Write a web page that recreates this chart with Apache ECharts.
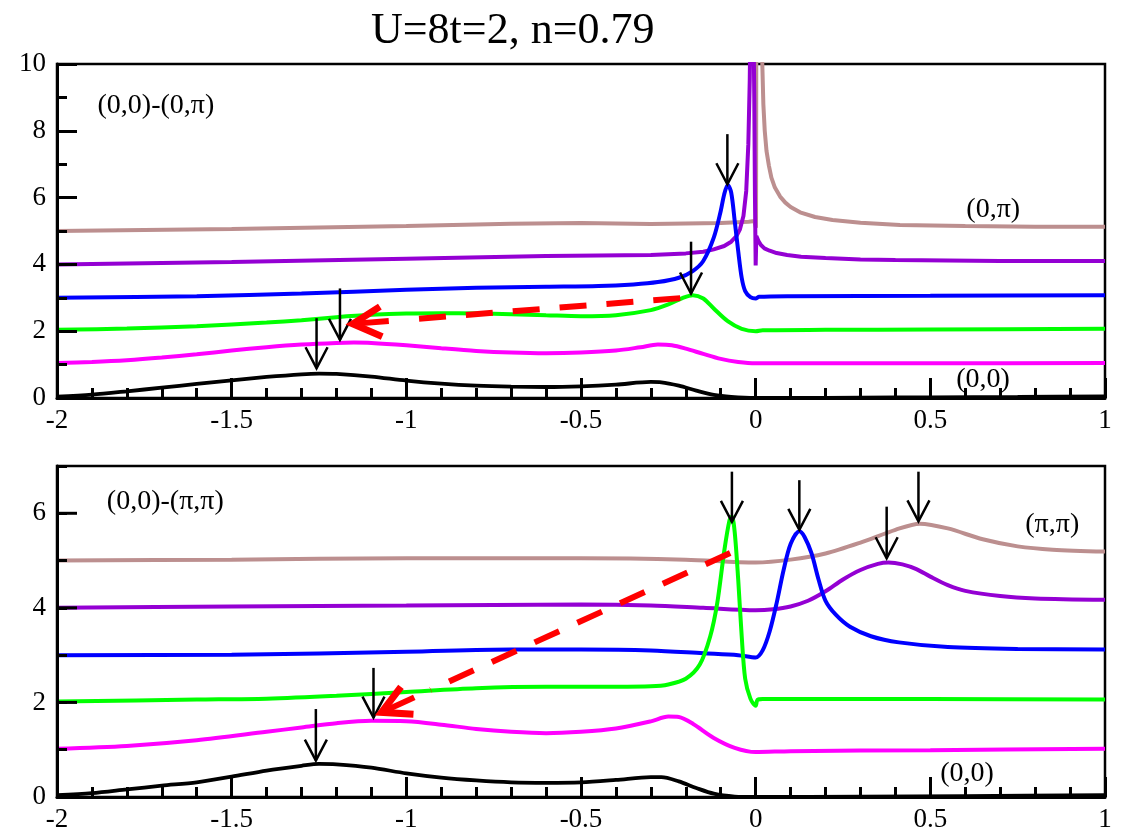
<!DOCTYPE html>
<html><head><meta charset="utf-8">
<script src="https://cdn.jsdelivr.net/npm/echarts@6/dist/echarts.min.js"></script>
<style>html,body{margin:0;padding:0;background:#fff}#c{width:1124px;height:833px}</style>
</head><body><div id="c"></div>
<script>
const FONT = '"Liberation Serif", "Times New Roman", serif';
const titleText = 'U=8t=2, n=0.79';
const X_MIN = -2, X_MAX = 1;
const xTickLabels = ['-2', '-1.5', '-1', '-0.5', '0', '0.5', '1'];
const topYTickLabels = ['0', '2', '4', '6', '8', '10'];
const botYTickLabels = ['0', '2', '4', '6'];
const botYMajorValues = [0, 2, 4, 6];

// ---- top panel: (0,0)-(0,pi) ----
const topBlack = [[-2,0.04],[-1.9,0.1],[-1.8,0.2],[-1.7,0.31],[-1.6,0.42],[-1.5,0.53],[-1.4,0.63],[-1.3,0.71],[-1.25,0.73],[-1.2,0.72],[-1.1,0.64],[-1.0,0.52],[-0.9,0.43],[-0.8,0.37],[-0.7,0.34],[-0.6,0.33],[-0.5,0.35],[-0.4,0.4],[-0.3,0.48],[-0.27,0.47],[-0.22,0.37],[-0.17,0.22],[-0.12,0.09],[-0.07,0.03],[0,0.0],[0.1,0.0],[0.3,0.01],[0.5,0.02],[0.75,0.03],[1,0.05]];
const topMagenta = [[-2,1.05],[-1.9,1.08],[-1.8,1.13],[-1.7,1.21],[-1.6,1.31],[-1.5,1.42],[-1.4,1.52],[-1.3,1.6],[-1.2,1.65],[-1.15,1.66],[-1.1,1.65],[-1.0,1.58],[-0.9,1.49],[-0.8,1.41],[-0.7,1.36],[-0.6,1.34],[-0.5,1.36],[-0.4,1.42],[-0.33,1.52],[-0.28,1.6],[-0.24,1.58],[-0.2,1.48],[-0.15,1.32],[-0.1,1.17],[-0.05,1.08],[0,1.04],[0.2,1.04],[0.5,1.04],[1,1.05]];
const topGreen = [[-2,2.04],[-1.8,2.08],[-1.6,2.15],[-1.4,2.26],[-1.3,2.33],[-1.2,2.42],[-1.1,2.49],[-1.0,2.53],[-0.9,2.54],[-0.8,2.53],[-0.7,2.51],[-0.6,2.48],[-0.5,2.45],[-0.4,2.48],[-0.3,2.63],[-0.25,2.8],[-0.21,2.99],[-0.18,3.08],[-0.15,2.98],[-0.12,2.68],[-0.08,2.3],[-0.04,2.07],[0,2.0],[0.02,2.03],[0.2,2.04],[0.5,2.05],[1,2.07]];
const topBlue = [[-2,3.0],[-1.6,3.05],[-1.3,3.13],[-1.0,3.24],[-0.8,3.3],[-0.6,3.33],[-0.45,3.35],[-0.35,3.4],[-0.28,3.47],[-0.22,3.6],[-0.18,3.8],[-0.15,4.1],[-0.12,4.8],[-0.1,5.6],[-0.09,6.1],[-0.08,6.38],[-0.07,6.15],[-0.06,5.3],[-0.05,4.4],[-0.04,3.6],[-0.03,3.2],[-0.015,3.02],[0,2.98],[0.01,3.03],[0.1,3.05],[0.5,3.06],[1,3.08]];
const topPurple = [[-2,4.0],[-1.5,4.07],[-1.0,4.17],[-0.6,4.25],[-0.3,4.28],[-0.2,4.33],[-0.15,4.38],[-0.12,4.45],[-0.09,4.55],[-0.07,4.68],[-0.055,4.85],[-0.045,5.05],[-0.035,5.45],[-0.027,6.2],[-0.021,7.6],[-0.017,9.5],[-0.014,12],[-0.007,12],[-0.004,9],[-0.002,6],[0,3.97],[0.002,4.85],[0.008,4.7],[0.015,4.58],[0.025,4.48],[0.04,4.41],[0.06,4.34],[0.09,4.28],[0.13,4.23],[0.2,4.19],[0.3,4.15],[0.4,4.13],[0.7,4.1],[1,4.1]];
const topBrown = [[-2,5.0],[-1.5,5.06],[-1.0,5.15],[-0.7,5.22],[-0.5,5.24],[-0.3,5.21],[-0.1,5.24],[-0.02,5.28],[-0.004,5.3],[0.001,5.1],[0.002,12],[0.016,12],[0.019,10],[0.022,8.8],[0.026,8.0],[0.031,7.4],[0.038,6.95],[0.045,6.6],[0.055,6.3],[0.07,6.03],[0.085,5.85],[0.1,5.72],[0.127,5.56],[0.17,5.42],[0.22,5.33],[0.3,5.25],[0.413,5.18],[0.6,5.15],[0.8,5.13],[1,5.13]];

// ---- bottom panel: (0,0)-(pi,pi) ----
const botBlack = [[-2,0.04],[-1.9,0.08],[-1.8,0.16],[-1.7,0.24],[-1.6,0.31],[-1.5,0.43],[-1.4,0.56],[-1.3,0.66],[-1.25,0.7],[-1.2,0.69],[-1.1,0.62],[-1.0,0.5],[-0.9,0.41],[-0.8,0.35],[-0.7,0.31],[-0.6,0.3],[-0.5,0.31],[-0.4,0.36],[-0.3,0.42],[-0.27,0.42],[-0.22,0.33],[-0.17,0.19],[-0.12,0.07],[-0.06,0.01],[0,0.0],[0.3,0.01],[0.6,0.02],[1,0.04]];
const botMagenta = [[-2,1.02],[-1.8,1.08],[-1.6,1.2],[-1.4,1.38],[-1.3,1.47],[-1.2,1.56],[-1.1,1.61],[-1.0,1.6],[-0.9,1.53],[-0.8,1.44],[-0.7,1.38],[-0.6,1.35],[-0.5,1.38],[-0.4,1.45],[-0.3,1.6],[-0.25,1.7],[-0.22,1.69],[-0.18,1.55],[-0.12,1.25],[-0.06,1.04],[0,0.95],[0.1,0.97],[0.5,0.99],[1,1.02]];
const botGreen = [[-2,2.02],[-1.6,2.06],[-1.4,2.08],[-1.2,2.14],[-1.0,2.22],[-0.8,2.3],[-0.6,2.33],[-0.4,2.33],[-0.3,2.34],[-0.25,2.38],[-0.2,2.5],[-0.16,2.8],[-0.13,3.4],[-0.11,4.1],[-0.09,5.2],[-0.075,5.85],[-0.068,5.93],[-0.06,5.6],[-0.05,4.6],[-0.04,3.4],[-0.03,2.5],[-0.015,2.08],[0,1.93],[0.005,2.05],[0.02,2.07],[0.5,2.07],[1,2.06]];
const botBlue = [[-2,3.0],[-1.5,3.01],[-1.0,3.07],[-0.7,3.12],[-0.5,3.12],[-0.3,3.1],[-0.15,3.04],[-0.05,3.0],[0,2.95],[0.02,3.1],[0.04,3.5],[0.06,4.1],[0.08,4.8],[0.1,5.35],[0.125,5.62],[0.14,5.5],[0.16,5.15],[0.18,4.6],[0.2,4.15],[0.23,3.85],[0.27,3.6],[0.33,3.4],[0.41,3.27],[0.55,3.17],[0.75,3.13],[1,3.12]];
const botPurple = [[-2,4.0],[-1.5,4.03],[-1.0,4.05],[-0.5,4.07],[-0.3,4.05],[-0.15,4.0],[0,3.95],[0.05,3.97],[0.1,4.03],[0.15,4.15],[0.2,4.35],[0.25,4.6],[0.3,4.8],[0.35,4.93],[0.38,4.96],[0.42,4.92],[0.46,4.82],[0.5,4.66],[0.55,4.48],[0.6,4.36],[0.7,4.25],[0.8,4.2],[1,4.17]];
const botBrown = [[-2,5.0],[-1.5,5.02],[-1.0,5.05],[-0.5,5.05],[-0.2,5.02],[0,4.96],[0.1,5.02],[0.2,5.15],[0.3,5.38],[0.4,5.65],[0.47,5.78],[0.55,5.68],[0.65,5.45],[0.75,5.3],[0.85,5.23],[1,5.19]];

// ---- annotations: black peak arrows [x, yStart, yTip]; red arrows [x0,y0,x1,y1]; labels ----
const topArrows = [[-0.081,7.9,6.4],[-0.185,4.68,3.13],[-1.19,3.28,1.74],[-1.257,2.39,0.89]];
const botArrows = [[-0.068,6.88,5.82],[0.125,6.7,5.65],[0.375,6.14,5.05],[0.466,6.88,5.83],[-1.094,2.73,1.68],[-1.259,1.86,0.77]];
const topRedArrow = [[-0.216,2.99,-1.153,2.22]];
const botRedArrow = [[-0.073,5.16,-1.071,1.79]];
const topLabelText = ['(0,0)-(0,π)', '(0,π)', '(0,0)'];
const topLabelPos = [[-1.717,8.76],[0.68,5.65],[0.651,0.54]];
const botLabelText = ['(0,0)-(π,π)', '(π,π)', '(0,0)'];
const botLabelPos = [[-1.69,6.25],[0.849,5.76],[0.605,0.49]];

const C = {brown:'#bc8f8f', purple:'#9400d3', blue:'#0000ff', green:'#00ff00', magenta:'#ff00ff', black:'#000000'};

const chart = echarts.init(document.getElementById('c'), null, {renderer:'canvas'});

function xAxisCfg(gi){
  return {type:'value', gridIndex:gi, min:X_MIN, max:X_MAX, interval:0.5, position:'bottom', zlevel:1, z:10,
    axisLine:{show:true, onZero:false, lineStyle:{color:'#000', width:3}},
    axisTick:{show:true, inside:true, length:20, lineStyle:{color:'#000', width:3}},
    minorTick:{show:true, splitNumber:5, length:10, lineStyle:{color:'#000', width:3}},
    splitLine:{show:false}, minorSplitLine:{show:false},
    axisLabel:{show:true, margin:9, color:'#000', fontFamily:FONT, fontSize:27,
      formatter:(v)=>{const i = Math.round((v-X_MIN)/0.5); return (Math.abs(v-(X_MIN+0.5*i))<1e-6 && xTickLabels[i]!==undefined) ? xTickLabels[i] : '';}}
  };
}
const yAxes = [
  {type:'value', gridIndex:0, min:0, max:10, interval:2, position:'left', zlevel:1, z:10,
    axisLine:{show:true, onZero:false, lineStyle:{color:'#000', width:3}},
    axisTick:{show:true, inside:true, length:20, lineStyle:{color:'#000', width:3}},
    minorTick:{show:true, splitNumber:2, length:10, lineStyle:{color:'#000', width:3}},
    splitLine:{show:false}, minorSplitLine:{show:false},
    axisLabel:{margin:11, color:'#000', fontFamily:FONT, fontSize:27,
      formatter:(v)=>{const i=Math.round(v/2); return (Math.abs(v-2*i)<1e-6 && topYTickLabels[i]!==undefined)?topYTickLabels[i]:'';}}},
  {type:'value', gridIndex:1, min:0, max:7, interval:1, position:'left', zlevel:1, z:10,
    axisLine:{show:true, onZero:false, lineStyle:{color:'#000', width:3}},
    axisTick:{show:true, inside:true, length:10, lineStyle:{color:'#000', width:3}},
    splitLine:{show:false},
    axisLabel:{margin:11, color:'#000', fontFamily:FONT, fontSize:27,
      formatter:(v)=>{const i=Math.round(v/2); return (Math.abs(v-2*i)<1e-6 && botYTickLabels[i]!==undefined)?botYTickLabels[i]:'';}}}
];

function lineSeries(data, color, gi, width, smooth){
  return {type:'line', xAxisIndex:gi, yAxisIndex:gi, data:data, symbol:'none', showSymbol:false,
    smooth:smooth, clip:true, lineStyle:{color:color, width:width}, itemStyle:{color:color},
    z:2, animation:false, silent:true};
}

function arrowRender(params, api){
  const top = api.coord([api.value(0), api.value(1)]);
  const tip = api.coord([api.value(0), api.value(2)]);
  return {type:'group', children:[
    {type:'line', shape:{x1:top[0], y1:top[1], x2:tip[0], y2:tip[1]}, style:{stroke:'#000', lineWidth:2.5}},
    {type:'polyline', shape:{points:[[tip[0]-11, tip[1]-21],[tip[0], tip[1]],[tip[0]+11, tip[1]-21]]}, style:{stroke:'#000', lineWidth:2.5, fill:null}}
  ]};
}
function redArrowRender(params, api){
  const s = api.coord([api.value(0), api.value(1)]);
  const t = api.coord([api.value(2), api.value(3)]);
  const dx = s[0]-t[0], dy = s[1]-t[1];
  const L = Math.hypot(dx, dy); const ux = dx/L, uy = dy/L;
  const a = 28*Math.PI/180, len = 32;
  const rot = (ang)=>[t[0]+len*(ux*Math.cos(ang)-uy*Math.sin(ang)), t[1]+len*(ux*Math.sin(ang)+uy*Math.cos(ang))];
  const sh = 36;
  return {type:'group', children:[
    {type:'line', shape:{x1:s[0], y1:s[1], x2:t[0]+ux*(sh+18), y2:t[1]+uy*(sh+18)}, style:{stroke:'#ff0000', lineWidth:6, lineDash:[27,20]}},
    {type:'line', shape:{x1:t[0]+ux*3, y1:t[1]+uy*3, x2:t[0]+ux*sh, y2:t[1]+uy*sh}, style:{stroke:'#ff0000', lineWidth:6}},
    {type:'polyline', shape:{points:[rot(a), [t[0], t[1]], rot(-a)]}, style:{stroke:'#ff0000', lineWidth:7, fill:null, lineJoin:'miter'}}
  ]};
}
function labelRender(texts){
  return function(params, api){
    const p = api.coord([api.value(0), api.value(1)]);
    return {type:'text', x:p[0], y:p[1], style:{text:texts[params.dataIndex], fill:'#000', fontFamily:FONT, fontSize:28, align:'center', verticalAlign:'middle'}};
  };
}
// long (major) ticks of the lower y axis, placed through the axis scale
function majorTickRender(params, api){
  const p = api.coord([X_MIN, api.value(1)]);
  return {type:'line', shape:{x1:p[0], y1:p[1], x2:p[0]+20, y2:p[1]}, style:{stroke:'#000', lineWidth:3}};
}

const series = [
  lineSeries(topBrown, C.brown, 0, 4, false),
  lineSeries(topPurple, C.purple, 0, 4, false),
  lineSeries(topBlue, C.blue, 0, 4, 0.3),
  lineSeries(topGreen, C.green, 0, 4, 0.3),
  lineSeries(topMagenta, C.magenta, 0, 4, 0.3),
  lineSeries(topBlack, C.black, 0, 3.8, 0.3),
  lineSeries(botBrown, C.brown, 1, 4, 0.3),
  lineSeries(botPurple, C.purple, 1, 4, 0.3),
  lineSeries(botBlue, C.blue, 1, 4, 0.3),
  lineSeries(botGreen, C.green, 1, 4, 0.3),
  lineSeries(botMagenta, C.magenta, 1, 4, 0.3),
  lineSeries(botBlack, C.black, 1, 3.8, 0.3),
  {type:'custom', xAxisIndex:1, yAxisIndex:1, data:botYMajorValues.map(v=>[X_MIN, v]), renderItem:majorTickRender, encode:{x:0, y:1}, zlevel:1, z:8, clip:false, animation:false, silent:true},
  {type:'custom', xAxisIndex:0, yAxisIndex:0, data:topArrows, renderItem:arrowRender, encode:{x:0, y:[1,2]}, z:5, animation:false, silent:true},
  {type:'custom', xAxisIndex:1, yAxisIndex:1, data:botArrows, renderItem:arrowRender, encode:{x:0, y:[1,2]}, z:5, animation:false, silent:true},
  {type:'custom', xAxisIndex:0, yAxisIndex:0, data:topRedArrow, renderItem:redArrowRender, encode:{x:[0,2], y:[1,3]}, z:6, animation:false, silent:true},
  {type:'custom', xAxisIndex:1, yAxisIndex:1, data:botRedArrow, renderItem:redArrowRender, encode:{x:[0,2], y:[1,3]}, z:6, animation:false, silent:true},
  {type:'custom', xAxisIndex:0, yAxisIndex:0, data:topLabelPos, renderItem:labelRender(topLabelText), encode:{x:0, y:1}, z:7, animation:false, silent:true},
  {type:'custom', xAxisIndex:1, yAxisIndex:1, data:botLabelPos, renderItem:labelRender(botLabelText), encode:{x:0, y:1}, z:7, animation:false, silent:true}
];

chart.setOption({
  backgroundColor:'#ffffff',
  animation:false,
  title:{text:titleText, left:366, top:4, padding:5, textStyle:{fontFamily:FONT, fontSize:44, fontWeight:'normal', color:'#000'}},
  grid:[
    {left:57, top:64, width:1048, height:334, show:true, borderColor:'#000', borderWidth:2.5, backgroundColor:'transparent', containLabel:false},
    {left:57, top:466, width:1048, height:332, show:true, borderColor:'#000', borderWidth:2.5, backgroundColor:'transparent', containLabel:false}
  ],
  xAxis:[xAxisCfg(0), xAxisCfg(1)],
  yAxis:yAxes,
  series:series
});
</script></body></html>
